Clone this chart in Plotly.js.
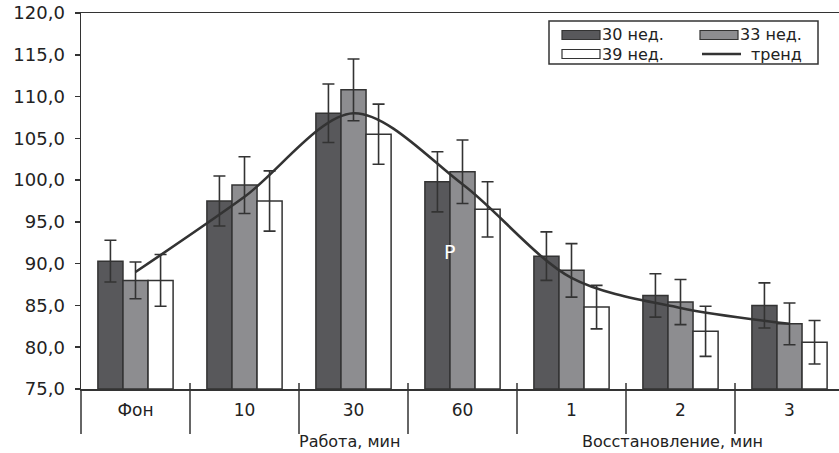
<!DOCTYPE html>
<html>
<head>
<meta charset="utf-8">
<script src="https://cdn.plot.ly/plotly-3.0.1.min.js"></script>
<style>
html,body{margin:0;padding:0;background:#fff;}
#chart{width:839px;height:453px;}
</style>
</head>
<body>
<div id="chart"></div>
<script>
// ---- data ----
var categories = ['Фон', '10', '30', '60', '1', '2', '3'];
var week30 = [90.3, 97.5, 108.0, 99.8, 90.9, 86.2, 85.0];
var week33 = [88.0, 99.4, 110.8, 101.0, 89.2, 85.4, 82.8];
var week39 = [88.0, 97.5, 105.5, 96.5, 84.8, 81.9, 80.6];
var err30 = [2.5, 3.0, 3.5, 3.6, 2.9, 2.6, 2.7];
var err33 = [2.2, 3.4, 3.7, 3.8, 3.2, 2.7, 2.5];
var err39 = [3.1, 3.6, 3.6, 3.3, 2.6, 3.0, 2.6];
var trend = [89.0, 98.0, 108.0, 99.5, 88.3, 84.7, 82.8];
var seriesNames = ['30 нед.', '33 нед.', '39 нед.', 'тренд'];
var groupLabels = ['Работа, мин', 'Восстановление, мин'];
var yTicks = [75, 80, 85, 90, 95, 100, 105, 110, 115, 120];
var BASE = 75;

// ---- geometry helpers (pixel -> paper) ----
var W = 839, H = 453, ML = 81, MR = 0, MT = 13, MB = 64;
var PW = W - ML - MR, PH = H - MT - MB;
function px(x) { return (x - ML) / PW; }
function py(y) { return (H - MB - y) / PH; }

var INK = '#333333';
var DARK = '#58585b';
var MID = '#8d8d90';
var FONT = 'DejaVu Sans';

function rel(vals) { return vals.map(function (v) { return v - BASE; }); }

function barTrace(name, vals, errs, fill) {
  return {
    type: 'bar', name: name, x: categories, y: rel(vals),
    marker: {color: fill, line: {color: INK, width: 1.5}},
    error_y: {type: 'data', array: errs, visible: true, color: INK, thickness: 1.6, width: 6},
    hoverinfo: 'x+y'
  };
}

var traces = [
  barTrace(seriesNames[0], week30, err30, DARK),
  barTrace(seriesNames[1], week33, err33, MID),
  barTrace(seriesNames[2], week39, err39, '#ffffff'),
  {
    type: 'scatter', mode: 'lines', name: seriesNames[3], x: categories, y: rel(trend),
    line: {color: INK, width: 2.6, shape: 'spline', smoothing: 0.9},
    hoverinfo: 'x+y'
  }
];

var shapes = [];
// category separators crossing the x axis
for (var i = 0; i < categories.length - 1; i++) {
  shapes.push({type: 'line', xref: 'x', yref: 'paper', x0: i + 0.5, x1: i + 0.5,
    y0: py(383), y1: py(434), line: {color: INK, width: 1.5}});
}
// extension of the y axis below the plot
shapes.push({type: 'line', xref: 'paper', yref: 'paper', x0: 0, x1: 0, y0: 0, y1: py(434),
  line: {color: INK, width: 1.5}});
// legend box
shapes.push({type: 'rect', xref: 'paper', yref: 'paper', x0: px(549), x1: px(818), y0: py(21), y1: py(64),
  line: {color: INK, width: 1.5}, fillcolor: '#ffffff', layer: 'above'});
// legend swatches
shapes.push({type: 'rect', xref: 'paper', yref: 'paper', x0: px(562), x1: px(600), y0: py(30.5), y1: py(39.5),
  line: {color: INK, width: 1.2}, fillcolor: DARK, layer: 'above'});
shapes.push({type: 'rect', xref: 'paper', yref: 'paper', x0: px(700), x1: px(738), y0: py(30.5), y1: py(39.5),
  line: {color: INK, width: 1.2}, fillcolor: MID, layer: 'above'});
shapes.push({type: 'rect', xref: 'paper', yref: 'paper', x0: px(562), x1: px(600), y0: py(49.5), y1: py(58.5),
  line: {color: INK, width: 1.2}, fillcolor: '#ffffff', layer: 'above'});
shapes.push({type: 'line', xref: 'paper', yref: 'paper', x0: px(702), x1: px(741), y0: py(54), y1: py(54),
  line: {color: INK, width: 2.4}, layer: 'above'});

var annFont = {family: FONT, size: 16, color: '#222'};
var annotations = [
  {xref: 'paper', yref: 'paper', x: px(600), y: py(34.5), text: seriesNames[0], showarrow: false,
    xanchor: 'left', yanchor: 'middle', font: annFont},
  {xref: 'paper', yref: 'paper', x: px(738), y: py(34.5), text: seriesNames[1], showarrow: false,
    xanchor: 'left', yanchor: 'middle', font: annFont},
  {xref: 'paper', yref: 'paper', x: px(600), y: py(54), text: seriesNames[2], showarrow: false,
    xanchor: 'left', yanchor: 'middle', font: annFont},
  {xref: 'paper', yref: 'paper', x: px(749), y: py(54), text: seriesNames[3], showarrow: false,
    xanchor: 'left', yanchor: 'middle', font: annFont},
  {xref: 'paper', yref: 'paper', x: px(349), y: py(441), text: groupLabels[0], showarrow: false,
    xanchor: 'center', yanchor: 'middle', borderpad: 0, font: {family: FONT, size: 16, color: '#222'}},
  {xref: 'paper', yref: 'paper', x: px(672), y: py(441), text: groupLabels[1], showarrow: false,
    xanchor: 'center', yanchor: 'middle', borderpad: 0, font: {family: FONT, size: 16, color: '#222'}},
  {xref: 'x', yref: 'y', x: categories.indexOf('60'), y: 91.4 - BASE, xshift: -13, text: 'Р', showarrow: false,
    xanchor: 'center', yanchor: 'middle', font: {family: FONT, size: 19, color: '#ffffff'}}
];

var tickVals = yTicks.map(function (v) { return v - BASE; });
var tickText = yTicks.map(function (v) { return v.toFixed(1).replace('.', ','); });

var layout = {
  width: W, height: H,
  margin: {l: ML, r: MR, t: MT, b: MB, pad: 0},
  paper_bgcolor: '#ffffff', plot_bgcolor: '#ffffff',
  showlegend: false,
  barmode: 'group', bargap: 0.31, bargroupgap: 0,
  xaxis: {
    type: 'category', range: [-0.5, -0.5 + PW / 109],
    showline: true, linecolor: INK, linewidth: 1.5, mirror: true,
    ticks: '', showgrid: false, zeroline: false,
    tickfont: {family: FONT, size: 17, color: '#222'},
    ticklabelstandoff: 5
  },
  yaxis: {
    range: [0, 45], tickmode: 'array', tickvals: tickVals, ticktext: tickText,
    showline: true, linecolor: INK, linewidth: 1.5,
    ticks: 'outside', ticklen: 5, tickwidth: 1.5, tickcolor: INK,
    showgrid: false, zeroline: false,
    tickfont: {family: FONT, size: 18, color: '#222'},
    ticklabelstandoff: 6
  },
  yaxis2: {
    overlaying: 'y', side: 'left', range: [0, 45], tickmode: 'array', tickvals: tickVals,
    ticks: 'inside', ticklen: 6, tickwidth: 1.5, tickcolor: INK,
    showticklabels: false, showgrid: false, zeroline: false, showline: false
  },
  shapes: shapes,
  annotations: annotations
};

Plotly.newPlot('chart', traces, layout, {staticPlot: true, displayModeBar: false});
</script>
</body>
</html>
